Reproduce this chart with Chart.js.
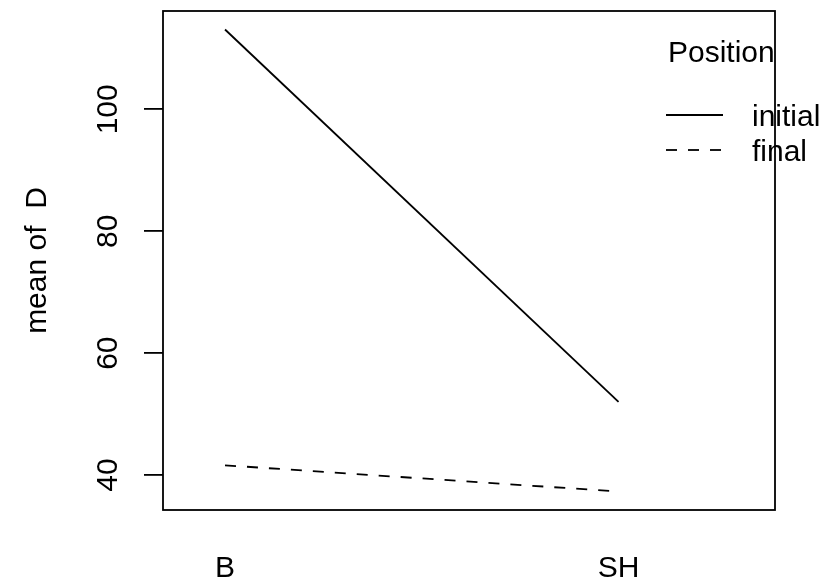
<!DOCTYPE html>
<html><head><meta charset="utf-8">
<script src="https://cdn.jsdelivr.net/npm/chart.js@4/dist/chart.umd.min.js"></script>
<style>html,body{margin:0;padding:0;background:#fff}canvas{display:block}</style>
</head><body>
<canvas id="c" width="834" height="581"></canvas>
<script>
const categories = ['B', 'SH'];
const seriesNames = ['initial', 'final'];
const initialValues = [113.1, 52.0];
const finalValues = [41.6, 37.3];
const yTickValues = [40, 60, 80, 100];
const legendTitle = 'Position';
const yTitle = 'mean of  D';

const FONT = "'Liberation Sans', Arial, Helvetica, sans-serif";
Chart.defaults.font.family = FONT;
Chart.defaults.font.size = 30;
Chart.defaults.color = '#000';

const allVals = initialValues.concat(finalValues);
const lo = Math.min(...allVals), hi = Math.max(...allVals);
const yMin = lo - (hi - lo) * 0.04, yMax = hi + (hi - lo) * 0.04;
const xSpan = (categories.length + 0.34) - (1 - 0.1);
const xMin = 0.9 - xSpan * 0.04, xMax = categories.length + 0.34 + xSpan * 0.04;

const toPts = arr => arr.map((v, i) => ({x: i + 1, y: v}));

const boxPlugin = {
  id: 'boxLegend',
  afterDraw(chart) {
    const ctx = chart.ctx, a = chart.chartArea;
    ctx.save();
    ctx.strokeStyle = '#000';
    ctx.lineWidth = 1.8;
    ctx.setLineDash([]);
    ctx.strokeRect(a.left, a.top, a.right - a.left, a.bottom - a.top);
    ctx.font = '30px ' + FONT;
    ctx.fillStyle = '#000';
    ctx.textAlign = 'left';
    ctx.textBaseline = 'alphabetic';
    ctx.fillText(legendTitle, 668, 62);
    chart.data.datasets.forEach((ds, i) => {
      const y = 115 + i * 35;
      ctx.setLineDash(ds.borderDash || []);
      ctx.beginPath();
      ctx.moveTo(666, y);
      ctx.lineTo(723, y);
      ctx.stroke();
      ctx.setLineDash([]);
      ctx.fillText(ds.label, 752, y + 11);
    });
    ctx.restore();
  }
};

new Chart(document.getElementById('c'), {
  type: 'line',
  data: {
    datasets: [
      {label: seriesNames[0], data: toPts(initialValues), borderColor: '#000', borderWidth: 1.8, pointRadius: 0, borderDash: []},
      {label: seriesNames[1], data: toPts(finalValues), borderColor: '#000', borderWidth: 1.8, pointRadius: 0, borderDash: [11, 11]}
    ]
  },
  options: {
    responsive: false,
    animation: false,
    layout: {padding: {top: 11, right: 59, left: 0, bottom: 0}},
    plugins: {legend: {display: false}, tooltip: {enabled: false}},
    scales: {
      x: {
        type: 'linear', min: xMin, max: xMax,
        afterBuildTicks: s => { s.ticks = categories.map((c, i) => ({value: i + 1})); },
        afterFit: s => { s.height = 71; s.paddingLeft = 0; s.paddingRight = 0; },
        grid: {display: false},
        border: {display: false},
        ticks: {padding: 33, autoSkip: false, minRotation: 0, maxRotation: 0, color: '#000',
          callback: v => categories[Math.round(v) - 1] ?? ''}
      },
      y: {
        min: yMin, max: yMax,
        afterBuildTicks: s => { s.ticks = yTickValues.map(v => ({value: v})); },
        afterFit: s => { s.width = 163; s.paddingTop = 0; s.paddingBottom = 0; },
        grid: {drawOnChartArea: false, drawTicks: true, tickLength: 19, color: '#000', lineWidth: 1.8},
        border: {display: false},
        ticks: {minRotation: 90, maxRotation: 90, crossAlign: 'center', padding: 10, color: '#000'},
        title: {display: true, text: yTitle, color: '#000', padding: {top: 20, bottom: 0}}
      }
    }
  },
  plugins: [boxPlugin]
});
</script>
</body></html>
